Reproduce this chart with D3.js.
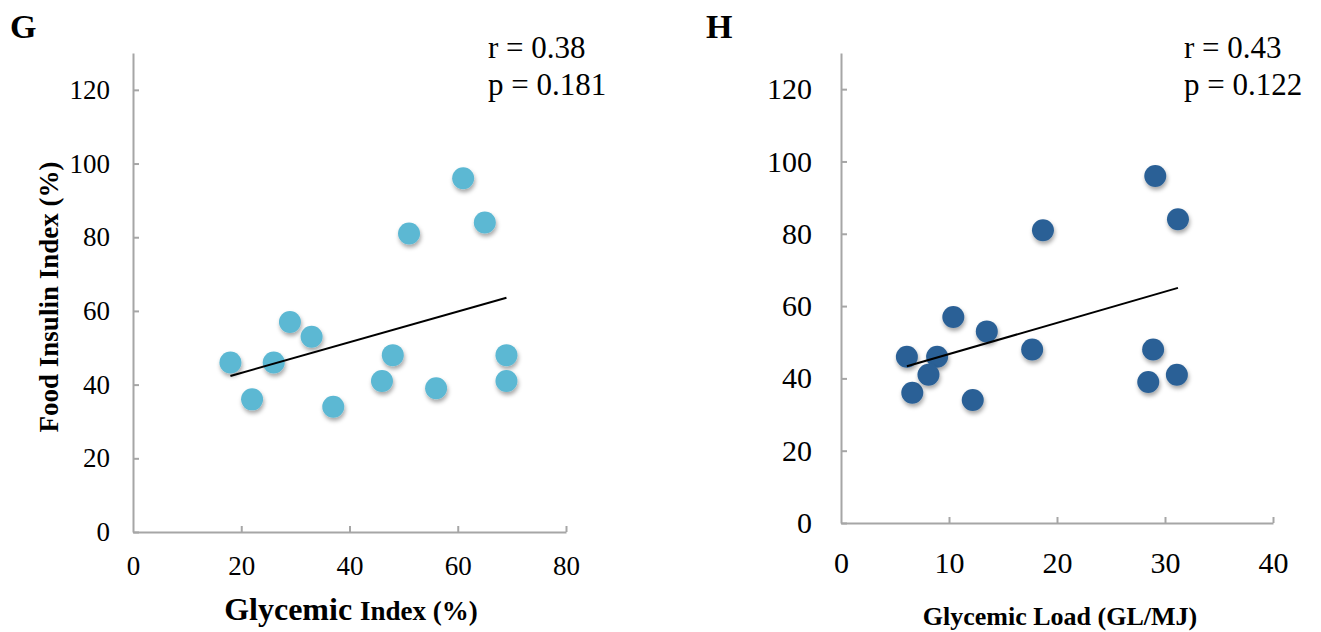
<!DOCTYPE html>
<html>
<head>
<meta charset="utf-8">
<script src="https://cdn.jsdelivr.net/npm/d3@7"></script>
<style>
  html, body { margin: 0; padding: 0; background: #fff; }
  svg { display: block; }
  .axis path, .axis line { stroke: #a6a6a6; stroke-width: 2px; }
  .axis text { font-family: "Liberation Serif", "Times New Roman", serif; fill: #000; }
</style>
</head>
<body>
<svg id="chart" width="1321" height="632"></svg>
<script>
// Foods: glycemic index, glycemic load and food insulin index
const glycemicIndex = [18, 22, 26, 29, 33, 37, 46, 48, 56, 69, 69, 51, 61, 65];
const glycemicLoad  = [6.1, 6.6, 8.9, 10.4, 13.5, 12.2, 8.1, 17.7, 28.45, 28.9, 31.1, 18.7, 29.1, 31.2];
const insulinIndex  = [46, 36, 46, 57, 53, 34, 41, 48, 39, 48, 41, 81, 96, 84];

const yTicks  = [0, 20, 40, 60, 80, 100, 120];
const giTicks = [0, 20, 40, 60, 80];
const glTicks = [0, 10, 20, 30, 40];

const statsG = ["r = 0.38", "p = 0.181"];
const statsH = ["r = 0.43", "p = 0.122"];

const svg = d3.select("#chart");
const serif = '"Liberation Serif", "Times New Roman", serif';

// soft drop shadow under the markers
const defs = svg.append("defs");
const f = defs.append("filter").attr("id", "shadow")
  .attr("x", "-50%").attr("y", "-50%").attr("width", "200%").attr("height", "200%");
f.append("feDropShadow").attr("dx", 1).attr("dy", 3).attr("stdDeviation", 2)
  .attr("flood-color", "#000").attr("flood-opacity", 0.35);

function fitLine(xs, ys) {
  const mx = d3.mean(xs), my = d3.mean(ys);
  let sxy = 0, sxx = 0;
  xs.forEach((x, i) => { sxy += (x - mx) * (ys[i] - my); sxx += (x - mx) * (x - mx); });
  const b = sxy / sxx, a = my - b * mx;
  const [x0, x1] = d3.extent(xs);
  return [[x0, a + b * x0], [x1, a + b * x1]];
}

function panel(opt) {
  const x = d3.scaleLinear().domain(opt.xDomain).range(opt.xRange);
  const y = d3.scaleLinear().domain([0, 130]).range(opt.yRange);
  const g = svg.append("g");

  const yAxis = d3.axisLeft(y).tickValues(yTicks).tickSize(-6).tickSizeOuter(0)
    .tickPadding(opt.yPad).tickFormat(d3.format("d"));
  g.append("g").attr("class", "axis")
    .attr("transform", `translate(${opt.xRange[0]},0)`)
    .call(yAxis)
    .call(s => s.selectAll("text").attr("font-size", opt.tickFont));

  const xAxis = d3.axisBottom(x).tickValues(opt.xTicks).tickSize(-6).tickSizeOuter(0)
    .tickPadding(opt.xPad).tickFormat(d3.format("d"));
  g.append("g").attr("class", "axis")
    .attr("transform", `translate(0,${opt.yRange[0]})`)
    .call(xAxis)
    .call(s => s.selectAll("text").attr("font-size", opt.tickFont))
    .call(s => s.selectAll(".tick").filter(d => d === 0).select("line").remove());

  // points
  g.append("g").selectAll("circle")
    .data(opt.xs.map((v, i) => [v, insulinIndex[i]]))
    .join("circle")
    .attr("cx", d => x(d[0]))
    .attr("cy", d => y(d[1]))
    .attr("r", 11)
    .attr("fill", opt.color)
    .attr("filter", "url(#shadow)");

  // least-squares trend line
  const seg = fitLine(opt.xs, insulinIndex);
  g.append("line")
    .attr("x1", x(seg[0][0])).attr("y1", y(seg[0][1]))
    .attr("x2", x(seg[1][0])).attr("y2", y(seg[1][1]))
    .attr("stroke", "#000").attr("stroke-width", 2);

  // panel letter
  g.append("text").attr("x", opt.letterX).attr("y", 38)
    .attr("font-family", serif).attr("font-weight", "bold").attr("font-size", 34)
    .text(opt.letter);

  // statistics
  g.append("text").attr("x", opt.statX).attr("y", 58)
    .attr("font-family", serif).attr("font-size", 31).text(opt.stats[0]);
  g.append("text").attr("x", opt.statX).attr("y", 95)
    .attr("font-family", serif).attr("font-size", 31).text(opt.stats[1]);
  return g;
}

const gPanel = panel({
  letter: "G", letterX: 10, statX: 488, stats: statsG,
  xs: glycemicIndex, xDomain: [0, 80], xTicks: giTicks,
  xRange: [133, 566], yRange: [532, 53],
  yPad: 23, xPad: 24, tickFont: 27, color: "#5bb8d3"
});

const hPanel = panel({
  letter: "H", letterX: 706, statX: 1184, stats: statsH,
  xs: glycemicLoad, xDomain: [0, 40], xTicks: glTicks,
  xRange: [841, 1273], yRange: [523, 53],
  yPad: 29, xPad: 29, tickFont: 30, color: "#2c6196"
});

// axis titles
gPanel.append("text")
  .attr("transform", "translate(58,297) rotate(-90)")
  .attr("text-anchor", "middle")
  .attr("font-family", serif).attr("font-weight", "bold").attr("font-size", 27)
  .text("Food Insulin Index (%)");

const xt = gPanel.append("text")
  .attr("x", 351).attr("y", 620).attr("text-anchor", "middle")
  .attr("font-family", serif).attr("font-weight", "bold");
xt.append("tspan").attr("font-size", 32).text("Glycemic ");
xt.append("tspan").attr("font-size", 27).text("Index (%)");

hPanel.append("text")
  .attr("x", 1060).attr("y", 625).attr("text-anchor", "middle")
  .attr("font-family", serif).attr("font-weight", "bold").attr("font-size", 26)
  .text("Glycemic Load (GL/MJ)");
</script>
</body>
</html>
